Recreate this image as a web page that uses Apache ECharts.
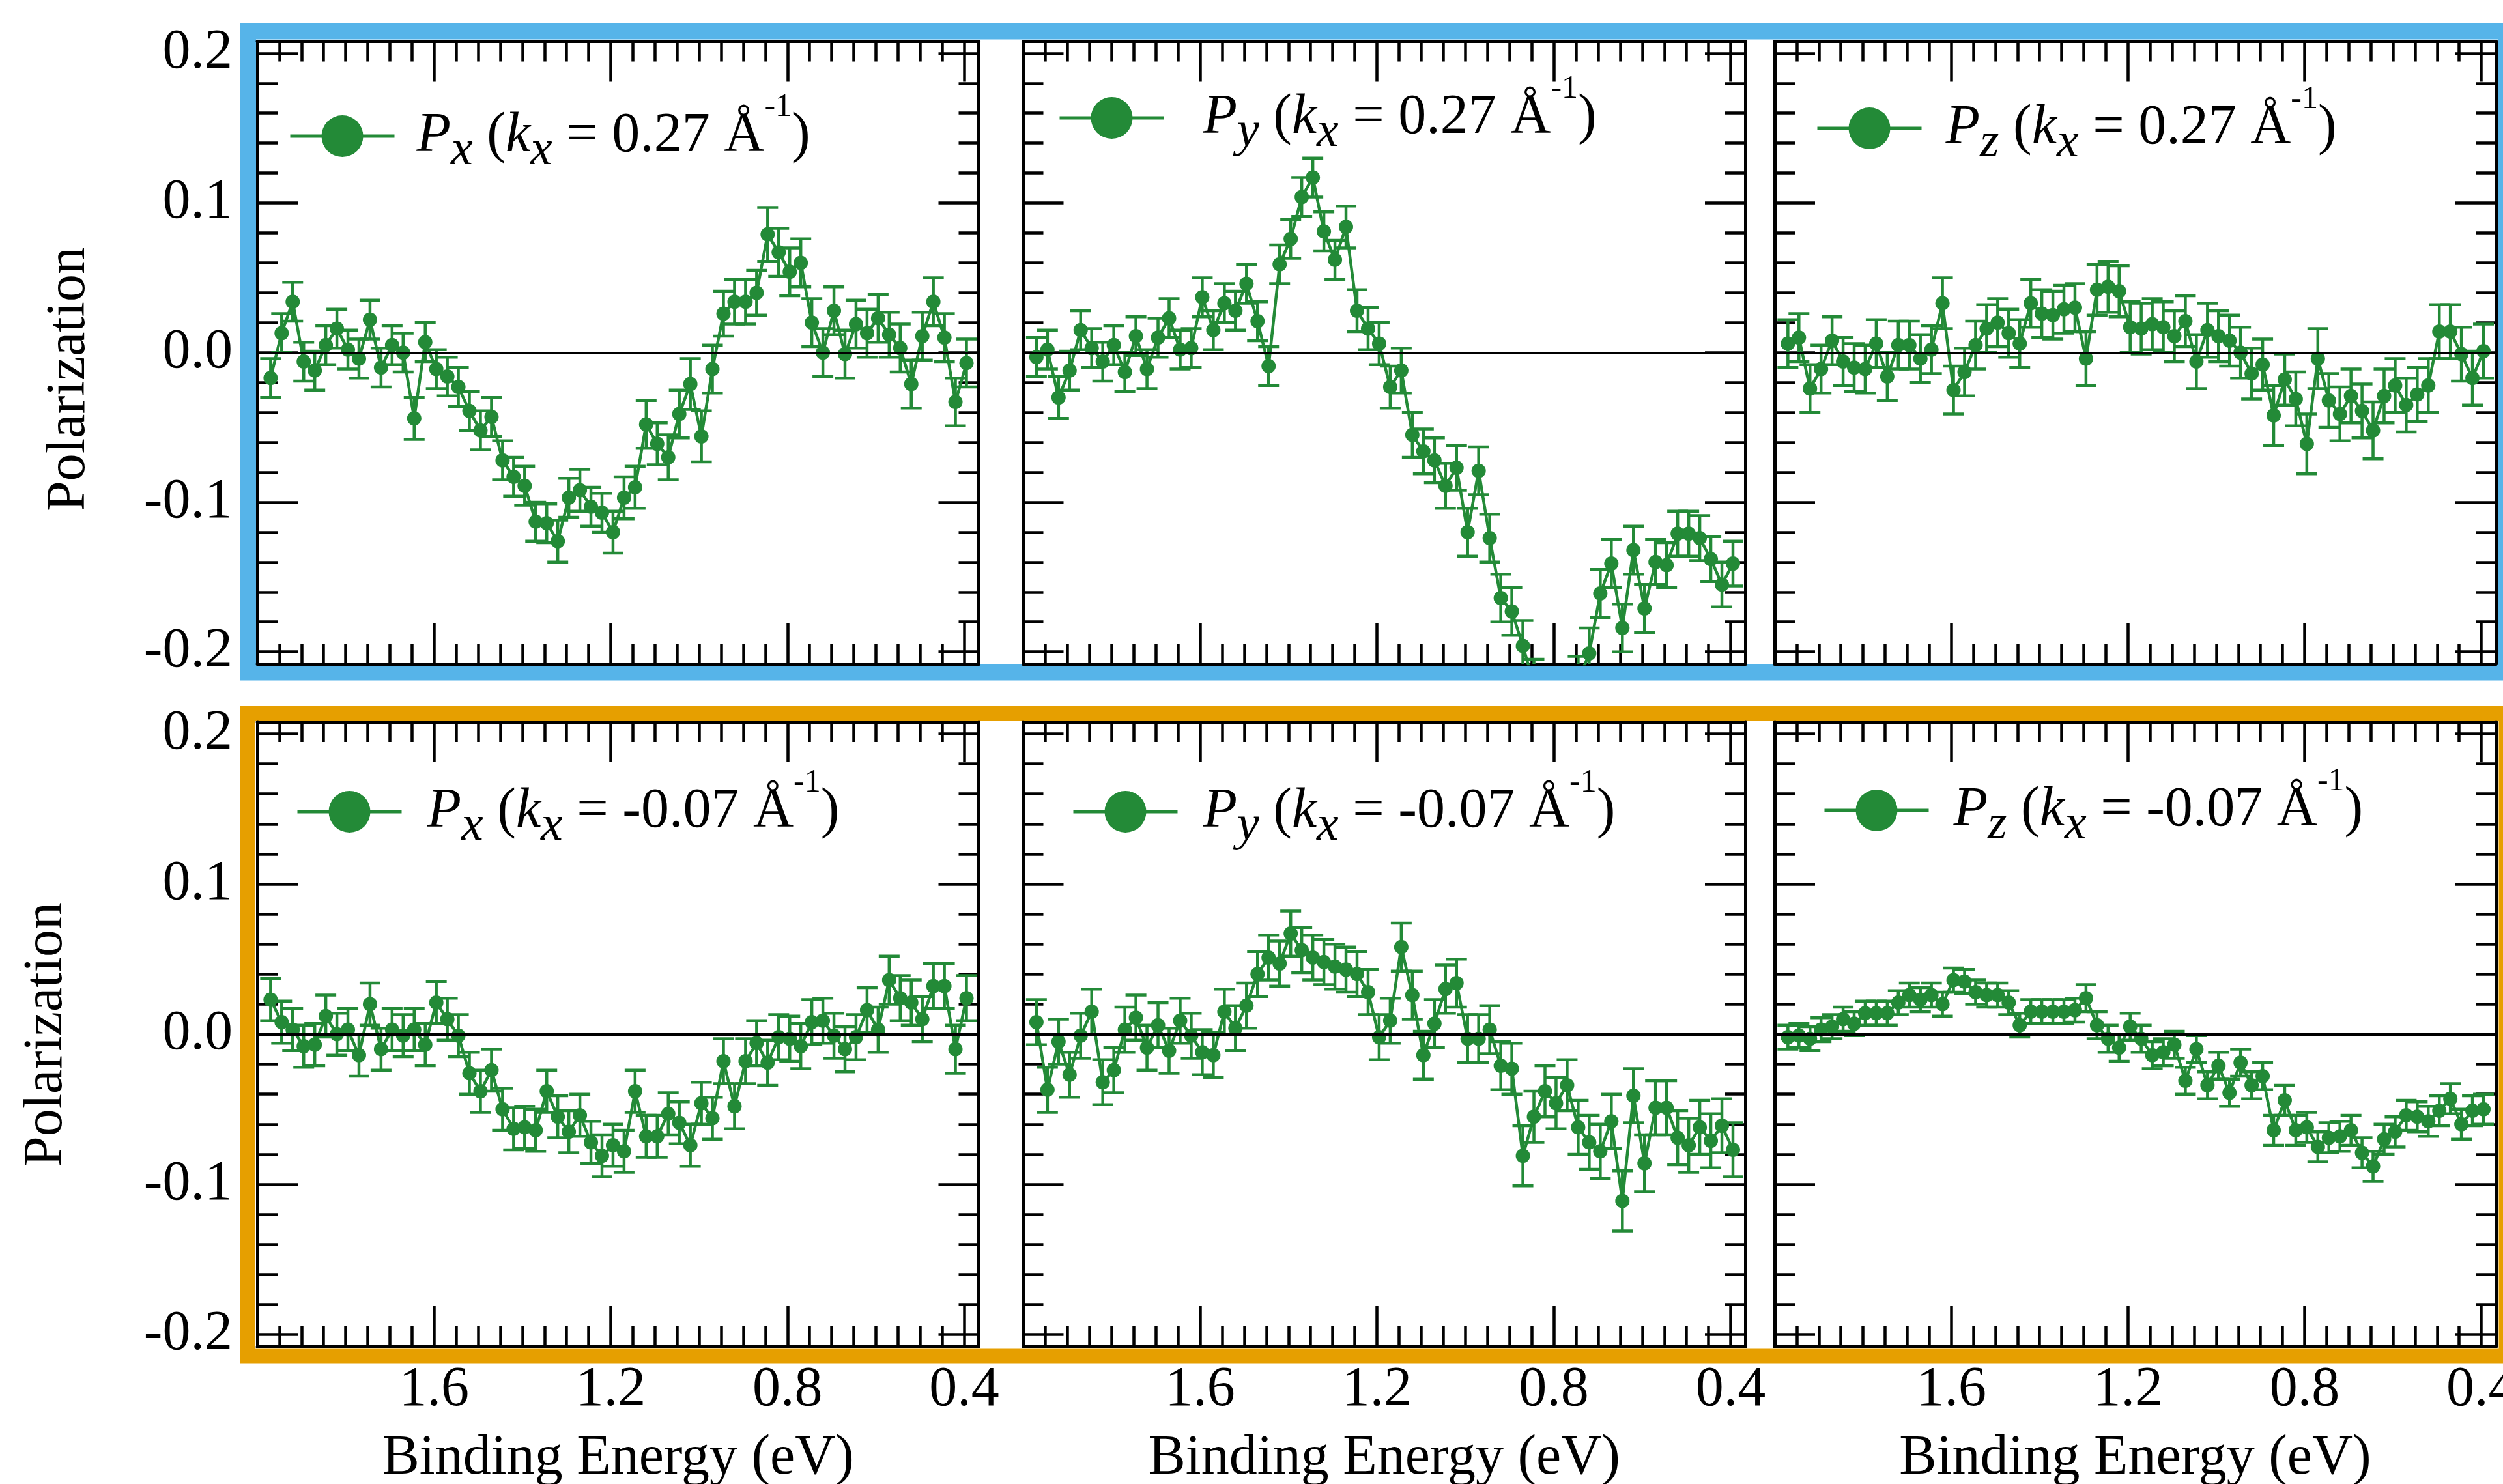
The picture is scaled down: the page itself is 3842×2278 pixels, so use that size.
<!DOCTYPE html>
<html>
<head>
<meta charset="utf-8">
<script src="https://cdn.jsdelivr.net/npm/echarts@6/dist/echarts.min.js"></script>
<style>
  html, body { margin: 0; padding: 0; background: #fff; }
  #chart { width: 3842px; height: 2278px; }
</style>
</head>
<body>
<div id="chart"></div>
<script>
// Binding energy grid (eV), shared by every panel
const energy = [
  1.970, 1.945, 1.920, 1.895, 1.870, 1.845, 1.820, 1.795, 1.770, 1.745,
  1.720, 1.695, 1.670, 1.645, 1.620, 1.595, 1.570, 1.545, 1.520, 1.495,
  1.470, 1.445, 1.420, 1.395, 1.370, 1.345, 1.320, 1.295, 1.270, 1.245,
  1.220, 1.195, 1.170, 1.145, 1.120, 1.095, 1.070, 1.045, 1.020, 0.995,
  0.970, 0.945, 0.920, 0.895, 0.870, 0.845, 0.820, 0.795, 0.770, 0.745,
  0.720, 0.695, 0.670, 0.645, 0.620, 0.595, 0.570, 0.545, 0.520, 0.495,
  0.470, 0.445, 0.420, 0.395
];

const energyTicks = [1.6, 1.2, 0.8, 0.4];
const polarizationTicks = [-0.2, -0.1, 0.0, 0.1, 0.2];

// kx = 0.27 1/Å
const pxA = [
  -0.017, 0.013, 0.034, -0.006, -0.012, 0.005, 0.016, 0.002, -0.004, 0.022,
  -0.010, 0.005, 0.000, -0.044, 0.007, -0.011, -0.016, -0.023, -0.039, -0.052,
  -0.043, -0.072, -0.083, -0.089, -0.113, -0.114, -0.126, -0.097, -0.092, -0.103,
  -0.107, -0.120, -0.097, -0.090, -0.048, -0.061, -0.070, -0.041, -0.021, -0.056,
  -0.011, 0.026, 0.034, 0.034, 0.040, 0.079, 0.067, 0.054, 0.060, 0.020,
  0.000, 0.028, -0.001, 0.019, 0.013, 0.023, 0.012, 0.003, -0.021, 0.011,
  0.034, 0.010, -0.033, -0.007
];
const errPxA = [
  0.013, 0.013, 0.013, 0.013, 0.013, 0.013, 0.013, 0.013, 0.013, 0.013,
  0.013, 0.013, 0.013, 0.014, 0.013, 0.013, 0.013, 0.013, 0.013, 0.013,
  0.013, 0.013, 0.013, 0.013, 0.013, 0.013, 0.014, 0.013, 0.014, 0.013,
  0.013, 0.014, 0.014, 0.014, 0.016, 0.014, 0.015, 0.016, 0.017, 0.017,
  0.016, 0.015, 0.015, 0.015, 0.015, 0.018, 0.016, 0.016, 0.016, 0.016,
  0.016, 0.016, 0.016, 0.016, 0.016, 0.016, 0.015, 0.016, 0.016, 0.016,
  0.016, 0.016, 0.016, 0.016
];
const pyA = [
  -0.003, 0.002, -0.030, -0.012, 0.015, 0.003, -0.006, 0.005, -0.013, 0.011,
  -0.011, 0.010, 0.023, 0.002, 0.003, 0.037, 0.015, 0.033, 0.028, 0.046,
  0.021, -0.009, 0.059, 0.076, 0.104, 0.117, 0.081, 0.062, 0.084, 0.028,
  0.016, 0.006, -0.023, -0.012, -0.055, -0.066, -0.072, -0.089, -0.077, -0.120,
  -0.079, -0.124, -0.164, -0.173, -0.196, -0.222, -0.240, -0.250, -0.238, -0.220,
  -0.201, -0.161, -0.141, -0.184, -0.132, -0.171, -0.140, -0.142, -0.121, -0.121,
  -0.124, -0.138, -0.155, -0.141
];
const errPyA = [
  0.013, 0.013, 0.014, 0.013, 0.013, 0.013, 0.013, 0.013, 0.013, 0.013,
  0.013, 0.013, 0.013, 0.013, 0.013, 0.013, 0.013, 0.013, 0.013, 0.013,
  0.013, 0.013, 0.013, 0.013, 0.013, 0.013, 0.013, 0.013, 0.014, 0.014,
  0.014, 0.014, 0.014, 0.015, 0.015, 0.015, 0.015, 0.015, 0.015, 0.016,
  0.016, 0.016, 0.016, 0.016, 0.017, 0.017, 0.017, 0.017, 0.017, 0.017,
  0.017, 0.016, 0.016, 0.016, 0.016, 0.016, 0.015, 0.015, 0.015, 0.015,
  0.015, 0.015, 0.015, 0.015
];
const pzA = [
  0.006, 0.010, -0.024, -0.011, 0.008, -0.006, -0.010, -0.011, 0.006, -0.016,
  0.005, 0.005, -0.004, 0.002, 0.033, -0.025, -0.013, 0.005, 0.016, 0.020,
  0.013, 0.006, 0.033, 0.026, 0.025, 0.029, 0.030, -0.004, 0.042, 0.044,
  0.041, 0.017, 0.016, 0.019, 0.017, 0.011, 0.021, -0.006, 0.015, 0.011,
  0.008, 0.000, -0.014, -0.008, -0.042, -0.018, -0.031, -0.061, -0.004, -0.032,
  -0.041, -0.029, -0.039, -0.052, -0.029, -0.022, -0.035, -0.028, -0.022, 0.014,
  0.014, -0.001, -0.017, 0.001
];
const errPzA = [
  0.016, 0.016, 0.016, 0.016, 0.016, 0.016, 0.016, 0.016, 0.016, 0.016,
  0.016, 0.016, 0.016, 0.016, 0.017, 0.016, 0.016, 0.016, 0.016, 0.016,
  0.016, 0.016, 0.016, 0.016, 0.016, 0.016, 0.016, 0.018, 0.017, 0.017,
  0.017, 0.017, 0.017, 0.017, 0.017, 0.017, 0.017, 0.018, 0.018, 0.017,
  0.017, 0.017, 0.017, 0.017, 0.020, 0.017, 0.018, 0.020, 0.020, 0.018,
  0.018, 0.018, 0.018, 0.019, 0.018, 0.018, 0.018, 0.018, 0.018, 0.018,
  0.018, 0.018, 0.018, 0.018
];

// kx = -0.07 1/Å
const pxB = [
  0.023, 0.008, 0.003, -0.008, -0.007, 0.012, 0.000, 0.003, -0.014, 0.020,
  -0.010, 0.003, -0.001, 0.003, -0.007, 0.021, 0.010, -0.001, -0.026, -0.038,
  -0.024, -0.050, -0.063, -0.062, -0.064, -0.038, -0.055, -0.065, -0.054, -0.072,
  -0.081, -0.074, -0.078, -0.038, -0.068, -0.068, -0.053, -0.059, -0.074, -0.046,
  -0.056, -0.018, -0.048, -0.018, -0.006, -0.019, -0.002, -0.003, -0.008, 0.008,
  0.009, -0.001, -0.010, -0.002, 0.016, 0.003, 0.036, 0.024, 0.021, 0.010,
  0.032, 0.032, -0.010, 0.024
];
const errPxB = [
  0.014, 0.014, 0.014, 0.014, 0.014, 0.014, 0.014, 0.014, 0.014, 0.014,
  0.014, 0.014, 0.014, 0.014, 0.014, 0.014, 0.014, 0.014, 0.014, 0.014,
  0.014, 0.014, 0.014, 0.014, 0.014, 0.014, 0.014, 0.014, 0.014, 0.014,
  0.014, 0.014, 0.014, 0.014, 0.014, 0.014, 0.014, 0.014, 0.014, 0.014,
  0.014, 0.015, 0.015, 0.015, 0.015, 0.015, 0.015, 0.015, 0.015, 0.015,
  0.015, 0.015, 0.015, 0.015, 0.015, 0.015, 0.016, 0.015, 0.015, 0.015,
  0.015, 0.015, 0.016, 0.015
];
const pyB = [
  0.008, -0.037, -0.005, -0.027, -0.001, 0.015, -0.032, -0.024, 0.003, 0.011,
  -0.009, 0.006, -0.011, 0.009, -0.001, -0.012, -0.014, 0.015, 0.004, 0.019,
  0.040, 0.051, 0.047, 0.067, 0.056, 0.051, 0.048, 0.045, 0.043, 0.040,
  0.028, -0.002, 0.009, 0.058, 0.026, -0.014, 0.007, 0.030, 0.034, -0.003,
  -0.003, 0.003, -0.021, -0.023, -0.081, -0.055, -0.038, -0.046, -0.034, -0.062,
  -0.072, -0.078, -0.058, -0.111, -0.041, -0.086, -0.049, -0.049, -0.069, -0.074,
  -0.062, -0.071, -0.061, -0.077
];
const errPyB = [
  0.015, 0.015, 0.015, 0.015, 0.015, 0.015, 0.015, 0.015, 0.015, 0.015,
  0.015, 0.015, 0.015, 0.015, 0.015, 0.015, 0.015, 0.015, 0.015, 0.015,
  0.015, 0.015, 0.015, 0.015, 0.015, 0.015, 0.015, 0.015, 0.015, 0.015,
  0.015, 0.015, 0.015, 0.016, 0.016, 0.016, 0.016, 0.016, 0.016, 0.016,
  0.016, 0.016, 0.016, 0.017, 0.020, 0.017, 0.017, 0.017, 0.017, 0.018,
  0.018, 0.018, 0.018, 0.020, 0.018, 0.019, 0.018, 0.018, 0.018, 0.018,
  0.018, 0.018, 0.018, 0.018
];
const pzB = [
  -0.002, -0.001, -0.003, 0.003, 0.005, 0.010, 0.007, 0.014, 0.014, 0.014,
  0.021, 0.026, 0.023, 0.026, 0.020, 0.036, 0.035, 0.028, 0.026, 0.026,
  0.021, 0.006, 0.015, 0.015, 0.015, 0.015, 0.016, 0.024, 0.006, -0.003,
  -0.009, 0.005, -0.003, -0.014, -0.012, -0.007, -0.031, -0.010, -0.034, -0.021,
  -0.039, -0.019, -0.034, -0.028, -0.064, -0.044, -0.064, -0.062, -0.075, -0.069,
  -0.068, -0.064, -0.079, -0.088, -0.070, -0.065, -0.054, -0.055, -0.058, -0.051,
  -0.043, -0.060, -0.051, -0.050
];
const errPzB = [
  0.008, 0.008, 0.008, 0.008, 0.008, 0.008, 0.008, 0.008, 0.008, 0.008,
  0.008, 0.008, 0.008, 0.008, 0.008, 0.008, 0.008, 0.008, 0.008, 0.008,
  0.008, 0.008, 0.008, 0.008, 0.008, 0.008, 0.008, 0.009, 0.009, 0.009,
  0.009, 0.009, 0.009, 0.009, 0.009, 0.009, 0.009, 0.009, 0.009, 0.009,
  0.009, 0.009, 0.009, 0.009, 0.010, 0.010, 0.010, 0.010, 0.010, 0.010,
  0.010, 0.010, 0.010, 0.010, 0.010, 0.010, 0.010, 0.010, 0.010, 0.010,
  0.010, 0.010, 0.010, 0.010
];

const FONT = "'Liberation Serif', 'Times New Roman', Times, serif";
const GREEN = '#238A37';
const BLUE = '#56B4E9';
const ORANGE = '#E69F00';

// Energy axis spans 2.0 eV (left) down to about 0.367 eV (right)
const E_MIN = 0.367, E_MAX = 2.0;
const P_MIN = -0.208, P_MAX = 0.208;

const energyMinor = [];
for (let k = 1; k <= 32; k++) {
  const v = Math.round((2.0 - 0.05 * k) * 100) / 100;
  if (v > E_MIN && !energyTicks.some(t => Math.abs(t - v) < 1e-6)) energyMinor.push(v);
}
const polarizationMinor = [];
for (let k = -9; k <= 9; k++) {
  if (k % 5 !== 0) polarizationMinor.push(Math.round(k * 0.02 * 100) / 100);
}

const panels = [
  { grid: { left: 395,    top: 63.5, width: 1107.5, height: 955.5 }, comp: 'x', kx: '0.27',  values: pxA, errors: errPxA, leg: { left: 443,  cy: 209,  gap: 29 }, yLabels: true,  xLabels: false },
  { grid: { left: 1570.5, top: 63.5, width: 1108.5, height: 955.5 }, comp: 'y', kx: '0.27',  values: pyA, errors: errPyA, leg: { left: 1624, cy: 181,  gap: 55 }, yLabels: false, xLabels: false },
  { grid: { left: 2724,   top: 63.5, width: 1107,   height: 955.5 }, comp: 'z', kx: '0.27',  values: pzA, errors: errPzA, leg: { left: 2787, cy: 197,  gap: 32 }, yLabels: false, xLabels: false },
  { grid: { left: 395,    top: 1108, width: 1107.5, height: 959 },   comp: 'x', kx: '-0.07', values: pxB, errors: errPxB, leg: { left: 454,  cy: 1246, gap: 34 }, yLabels: true,  xLabels: true },
  { grid: { left: 1570.5, top: 1108, width: 1108.5, height: 959 },   comp: 'y', kx: '-0.07', values: pyB, errors: errPyB, leg: { left: 1645, cy: 1246, gap: 34 }, yLabels: false, xLabels: true },
  { grid: { left: 2724,   top: 1108, width: 1107,   height: 959 },   comp: 'z', kx: '-0.07', values: pzB, errors: errPzB, leg: { left: 2798, cy: 1244, gap: 33 }, yLabels: false, xLabels: true }
];

const AXIS_W = 5, TICK_W = 4.5, MAJOR_LEN = 62, MINOR_LEN = 31;
const labelFmt = v => Number(v).toFixed(1);

// legend text geometry: the raised "-1" token reaches SUP_HALF above the text centre
const LINE_H = 100, SUP_SIZE = 50, SUP_PAD = 89, SUB_SIZE = 76, SUB_PAD = 47;
const SUP_HALF = (SUP_SIZE + SUP_PAD) / 2;

function makeXAxis(g, position, major, showLine, showLabels) {
  return {
    type: 'value', gridIndex: g, position: position,
    min: E_MIN, max: E_MAX, inverse: true,
    axisLine: { show: showLine, onZero: false, lineStyle: { color: '#000', width: AXIS_W } },
    axisTick: { show: true, inside: true, length: major ? MAJOR_LEN : MINOR_LEN,
                customValues: major ? energyTicks : energyMinor,
                lineStyle: { color: '#000', width: TICK_W } },
    axisLabel: showLabels
      ? { show: true, customValues: energyTicks, formatter: labelFmt, margin: 24,
          fontFamily: FONT, fontSize: 86, color: '#000' }
      : { show: false },
    splitLine: { show: false },
    name: showLabels ? 'Binding Energy (eV)' : '',
    nameLocation: 'middle', nameGap: 129,
    nameTextStyle: { fontFamily: FONT, fontSize: 86, color: '#000' },
    axisPointer: { show: false }
  };
}
function makeYAxis(g, position, major, showLine, showLabels) {
  return {
    type: 'value', gridIndex: g, position: position,
    min: P_MIN, max: P_MAX,
    axisLine: { show: showLine, onZero: false, lineStyle: { color: '#000', width: AXIS_W } },
    axisTick: { show: true, inside: true, length: major ? MAJOR_LEN : MINOR_LEN,
                customValues: major ? polarizationTicks : polarizationMinor,
                lineStyle: { color: '#000', width: TICK_W } },
    axisLabel: showLabels
      ? { show: true, customValues: polarizationTicks, formatter: labelFmt, margin: 38,
          fontFamily: FONT, fontSize: 86, color: '#000' }
      : { show: false },
    splitLine: { show: false },
    axisPointer: { show: false }
  };
}

const grids = [], xAxes = [], yAxes = [], series = [], legends = [];

panels.forEach((p, g) => {
  grids.push(Object.assign({ containLabel: false, outerBoundsMode: 'none' }, p.grid));

  const xi = xAxes.length;
  xAxes.push(makeXAxis(g, 'bottom', true, true, p.xLabels));
  xAxes.push(makeXAxis(g, 'bottom', false, false, false));
  xAxes.push(makeXAxis(g, 'top', true, true, false));
  xAxes.push(makeXAxis(g, 'top', false, false, false));

  const yi = yAxes.length;
  yAxes.push(makeYAxis(g, 'left', true, true, p.yLabels));
  yAxes.push(makeYAxis(g, 'left', false, false, false));
  yAxes.push(makeYAxis(g, 'right', true, true, false));
  yAxes.push(makeYAxis(g, 'right', false, false, false));

  const name = 'P' + p.comp + ' (kx = ' + p.kx + ' Å-1)';

  // error bars with caps, plus the zero reference line
  series.push({
    type: 'custom',
    xAxisIndex: xi, yAxisIndex: yi,
    clip: true, silent: true, z: 2,
    data: energy.map((e, i) => [e, p.values[i] - p.errors[i], p.values[i] + p.errors[i]]),
    encode: { x: 0, y: [1, 2] },
    renderItem: function (params, api) {
      const x = api.value(0);
      const lo = api.coord([x, api.value(1)]);
      const hi = api.coord([x, api.value(2)]);
      const half = 16;
      const st = { stroke: GREEN, lineWidth: 4.5, fill: null };
      return {
        type: 'group',
        children: [
          { type: 'line', shape: { x1: lo[0], y1: lo[1], x2: hi[0], y2: hi[1] }, style: st },
          { type: 'line', shape: { x1: lo[0] - half, y1: lo[1], x2: lo[0] + half, y2: lo[1] }, style: st },
          { type: 'line', shape: { x1: hi[0] - half, y1: hi[1], x2: hi[0] + half, y2: hi[1] }, style: st }
        ]
      };
    },
    markLine: {
      silent: true, symbol: ['none', 'none'],
      label: { show: false },
      lineStyle: { color: '#000', width: 4, type: 'solid' },
      data: [{ yAxis: 0 }]
    }
  });

  series.push({
    type: 'line', name: name,
    xAxisIndex: xi, yAxisIndex: yi,
    data: energy.map((e, i) => [e, p.values[i]]),
    symbol: 'circle', symbolSize: 22, showSymbol: true,
    lineStyle: { color: GREEN, width: 4.5 },
    itemStyle: { color: GREEN },
    clip: true, z: 3
  });

  const comp = p.comp, kx = p.kx;
  legends.push({
    show: true, orient: 'horizontal',
    left: p.leg.left, top: p.leg.cy - SUP_HALF, padding: 0,
    itemWidth: 160, itemHeight: 80, itemGap: 0,
    selectedMode: false,
    data: [name],
    lineStyle: { width: 5 },
    formatter: function () {
      return '{gap| }{it|P}{sub|' + comp + '} ({it|k}{sub|x} = ' + kx + ' Å{sup|-1})';
    },
    textStyle: {
      fontFamily: FONT, fontSize: 86, color: '#000', lineHeight: LINE_H,
      rich: {
        gap: { width: p.leg.gap, fontFamily: FONT, fontSize: 86, lineHeight: LINE_H },
        it:  { fontFamily: FONT, fontSize: 86, fontStyle: 'italic', color: '#000', lineHeight: LINE_H },
        sub: { fontFamily: FONT, fontSize: SUB_SIZE, fontStyle: 'italic', color: '#000', lineHeight: LINE_H, padding: [SUB_PAD, 0, 0, 0] },
        sup: { fontFamily: FONT, fontSize: SUP_SIZE, color: '#000', lineHeight: LINE_H, padding: [0, 0, SUP_PAD, 0] }
      }
    }
  });
});

const chart = echarts.init(document.getElementById('chart'), null, { renderer: 'canvas', devicePixelRatio: 1 });
chart.setOption({
  animation: false,
  backgroundColor: '#ffffff',
  grid: grids,
  xAxis: xAxes,
  yAxis: yAxes,
  legend: legends,
  series: series,
  graphic: [
    // row frames
    { type: 'rect', z: -10, silent: true,
      shape: { x: 380.5, y: 48, width: 3847 - 380.5, height: 1032 - 48 },
      style: { fill: null, stroke: BLUE, lineWidth: 25 } },
    { type: 'rect', z: -10, silent: true,
      shape: { x: 380.5, y: 1095.5, width: 3847 - 380.5, height: 2082 - 1095.5 },
      style: { fill: null, stroke: ORANGE, lineWidth: 23 } },
    // y-axis titles
    { type: 'text', x: 107, y: 582, rotation: Math.PI / 2, silent: true,
      style: { text: 'Polarization', fontFamily: FONT, fontSize: 84, fill: '#000',
               align: 'center', verticalAlign: 'middle' } },
    { type: 'text', x: 72, y: 1588, rotation: Math.PI / 2, silent: true,
      style: { text: 'Polarization', fontFamily: FONT, fontSize: 84, fill: '#000',
               align: 'center', verticalAlign: 'middle' } }
  ]
});
</script>
</body>
</html>
